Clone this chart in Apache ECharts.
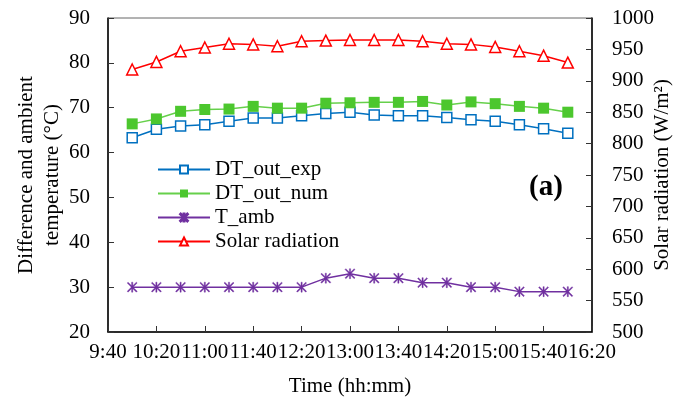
<!DOCTYPE html>
<html>
<head>
<meta charset="utf-8">
<script src="https://cdn.jsdelivr.net/npm/echarts@6/dist/echarts.min.js"></script>
<style>
html,body{margin:0;padding:0;background:#fff;}
#chart{width:685px;height:398px;}
</style>
</head>
<body>
<div id="chart"></div>
<script>
var times = ["10:00","10:20","10:40","11:00","11:20","11:40","12:00","12:20","12:40","13:00","13:20","13:40","14:00","14:20","14:40","15:00","15:20","15:40","16:00"];
var dtOutExp = [63.3,65.2,65.9,66.2,67.0,67.7,67.7,68.2,68.7,69.0,68.4,68.2,68.2,67.8,67.3,67.0,66.2,65.3,64.3];
var dtOutNum = [66.4,67.5,69.2,69.6,69.7,70.3,69.9,69.9,71.0,71.1,71.2,71.2,71.4,70.6,71.3,70.9,70.3,69.9,69.0];
var tAmb = [30,30,30,30,30,30,30,30,32,33,32,32,31,31,30,30,29,29,29];
var solar = [918,930,947,953,959,958,955,963,964,965,965,965,963,959,958,954,947,940,929];
var xTickLabels = ["9:40","10:20","11:00","11:40","12:20","13:00","13:40","14:20","15:00","15:40","16:20"];

function toMin(s){var p=s.split(":");return (+p[0])*60+(+p[1]);}
function toLabel(m){var h=Math.floor(m/60),mm=m%60;return h+":"+(mm<10?"0":"")+mm;}
function pairs(vals){return times.map(function(t,i){return [toMin(t),vals[i]];});}

var FONT = "Liberation Serif";
var FS = 21;
var starPath = "path://M4.4,0 L5.6,0 L5.6,10 L4.4,10 Z M0,0.85 L0.85,0 L10,9.15 L9.15,10 Z M9.15,0 L10,0.85 L0.85,10 L0,9.15 Z";

var chart = echarts.init(document.getElementById('chart'), null, {renderer:'canvas'});
var xMin = toMin(xTickLabels[0]), xMax = toMin(xTickLabels[xTickLabels.length-1]);
chart.setOption({
  animation:false,
  backgroundColor:'#fff',
  textStyle:{fontFamily:FONT,color:'#000'},
  grid:{left:108,right:93,top:18,bottom:66,show:true,borderColor:'#666',borderWidth:1,containLabel:false,outerBoundsMode:'none'},
  legend:{
    orient:'vertical',left:157,top:159,padding:0,itemWidth:52,itemHeight:10,itemGap:3,
    textStyle:{fontFamily:FONT,fontSize:FS,color:'#000'},
    data:['DT_out_exp','DT_out_num','T_amb','Solar radiation']
  },
  xAxis:{
    type:'value',min:xMin,max:xMax,interval:40,
    name:'Time (hh:mm)',nameLocation:'middle',nameGap:44,nameMoveOverlap:false,
    nameTextStyle:{fontFamily:FONT,fontSize:FS,color:'#000'},
    axisLine:{lineStyle:{color:'#000',width:1.5}},
    axisTick:{inside:true,length:6,lineStyle:{color:'#333'}},
    axisLabel:{fontFamily:FONT,fontSize:FS,color:'#000',margin:10,hideOverlap:false,formatter:function(v){return toLabel(v);}},
    splitLine:{show:false}
  },
  yAxis:[{
    type:'value',min:20,max:90,interval:10,position:'left',
    name:'Difference and ambient\ntemperature (°C)',nameLocation:'middle',nameRotate:90,nameGap:43,nameMoveOverlap:false,
    nameTextStyle:{fontFamily:FONT,fontSize:FS,color:'#000',lineHeight:26},
    axisLine:{show:true,lineStyle:{color:'#000',width:1.5}},
    axisTick:{show:true,inside:true,length:6,lineStyle:{color:'#333'}},
    axisLabel:{fontFamily:FONT,fontSize:FS,color:'#000',margin:18},
    splitLine:{show:false}
  },{
    type:'value',min:500,max:1000,interval:50,position:'right',
    name:'Solar radiation (W/m²)',nameLocation:'middle',nameRotate:90,nameGap:60,nameMoveOverlap:false,
    nameTextStyle:{fontFamily:FONT,fontSize:FS,color:'#000'},
    axisLine:{show:true,lineStyle:{color:'#000',width:1.5}},
    axisTick:{show:true,inside:true,length:6,lineStyle:{color:'#333'}},
    axisLabel:{fontFamily:FONT,fontSize:FS,color:'#000',margin:20,formatter:function(v){return String(v);}},
    splitLine:{show:false}
  }],
  graphic:[{type:'text',left:529,top:173,style:{text:'(a)',font:'bold 29px "Liberation Serif"',fill:'#000'}}],
  series:[{
    name:'DT_out_exp',type:'line',yAxisIndex:0,data:pairs(dtOutExp),
    symbol:'rect',symbolSize:10,
    lineStyle:{color:'#0070C0',width:1.5},
    itemStyle:{color:'#fff',borderColor:'#0070C0',borderWidth:1.5}
  },{
    name:'DT_out_num',type:'line',yAxisIndex:0,data:pairs(dtOutNum),
    symbol:'rect',symbolSize:11,
    lineStyle:{color:'#66D04B',width:1.5},
    itemStyle:{color:'#4CC72E',borderColor:'#4CC72E',borderWidth:0}
  },{
    name:'T_amb',type:'line',yAxisIndex:0,data:pairs(tAmb),
    symbol:starPath,symbolSize:10,
    lineStyle:{color:'#7030A0',width:1.5},
    itemStyle:{color:'#7030A0',borderColor:'#7030A0',borderWidth:0.4}
  },{
    name:'Solar radiation',type:'line',yAxisIndex:1,data:pairs(solar),
    symbol:'triangle',symbolSize:11,
    lineStyle:{color:'#FF0000',width:1.5},
    itemStyle:{color:'#fff',borderColor:'#FF0000',borderWidth:1.5}
  }]
});
</script>
</body>
</html>
